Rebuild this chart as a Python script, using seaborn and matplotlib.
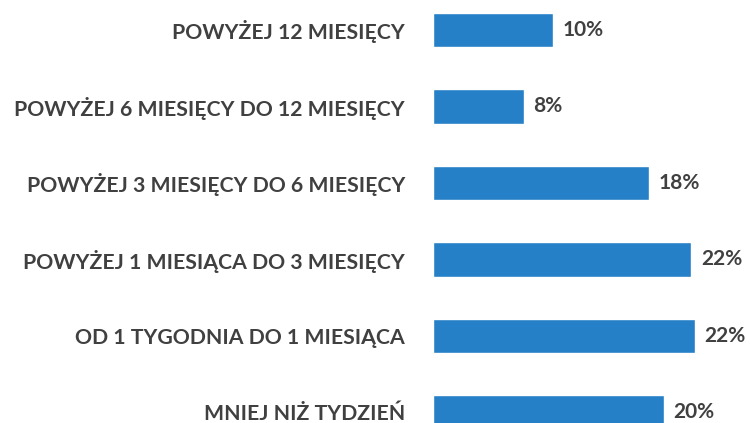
import pandas as pd
import matplotlib.pyplot as plt
import seaborn as sns

categories = [
    "POWYŻEJ 12 MIESIĘCY",
    "POWYŻEJ 6 MIESIĘCY DO 12 MIESIĘCY",
    "POWYŻEJ 3 MIESIĘCY DO 6 MIESIĘCY",
    "POWYŻEJ 1 MIESIĄCA DO 3 MIESIĘCY",
    "OD 1 TYGODNIA DO 1 MIESIĄCA",
    "MNIEJ NIŻ TYDZIEŃ",
]
# bar lengths as measured; labels show the rounded values
shares = [10.2, 7.7, 18.3, 21.9, 22.2, 19.6]
labels = ["10%", "8%", "18%", "22%", "22%", "20%"]

df = pd.DataFrame({"kategoria": categories, "udzial": shares})

sns.set_theme(style="white")
plt.rcParams['font.family'] = ['Lato', 'DejaVu Sans']

fig = plt.figure(figsize=(7.5, 4.23), dpi=100)
ax = fig.add_axes([0.577, 0.0, 0.423, 1.0])

sns.barplot(data=df, x="udzial", y="kategoria", color="#2680c8",
            width=0.45, saturation=1, ax=ax)

ax.bar_label(ax.containers[0], labels=labels, padding=7,
             fontsize=15, fontweight="bold", color="#404040")

ax.set_xlim(0, 26.9)
ax.set_ylim(5.14, -0.39)
ax.set_xlabel("")
ax.set_ylabel("")
ax.set_xticks([])
ax.tick_params(axis="y", length=0, pad=20)
for lbl in ax.get_yticklabels():
    lbl.set_fontsize(15.3)
    lbl.set_fontweight("bold")
    lbl.set_color("#404040")
sns.despine(ax=ax, left=True, bottom=True)

plt.savefig("out.png", dpi=100)
